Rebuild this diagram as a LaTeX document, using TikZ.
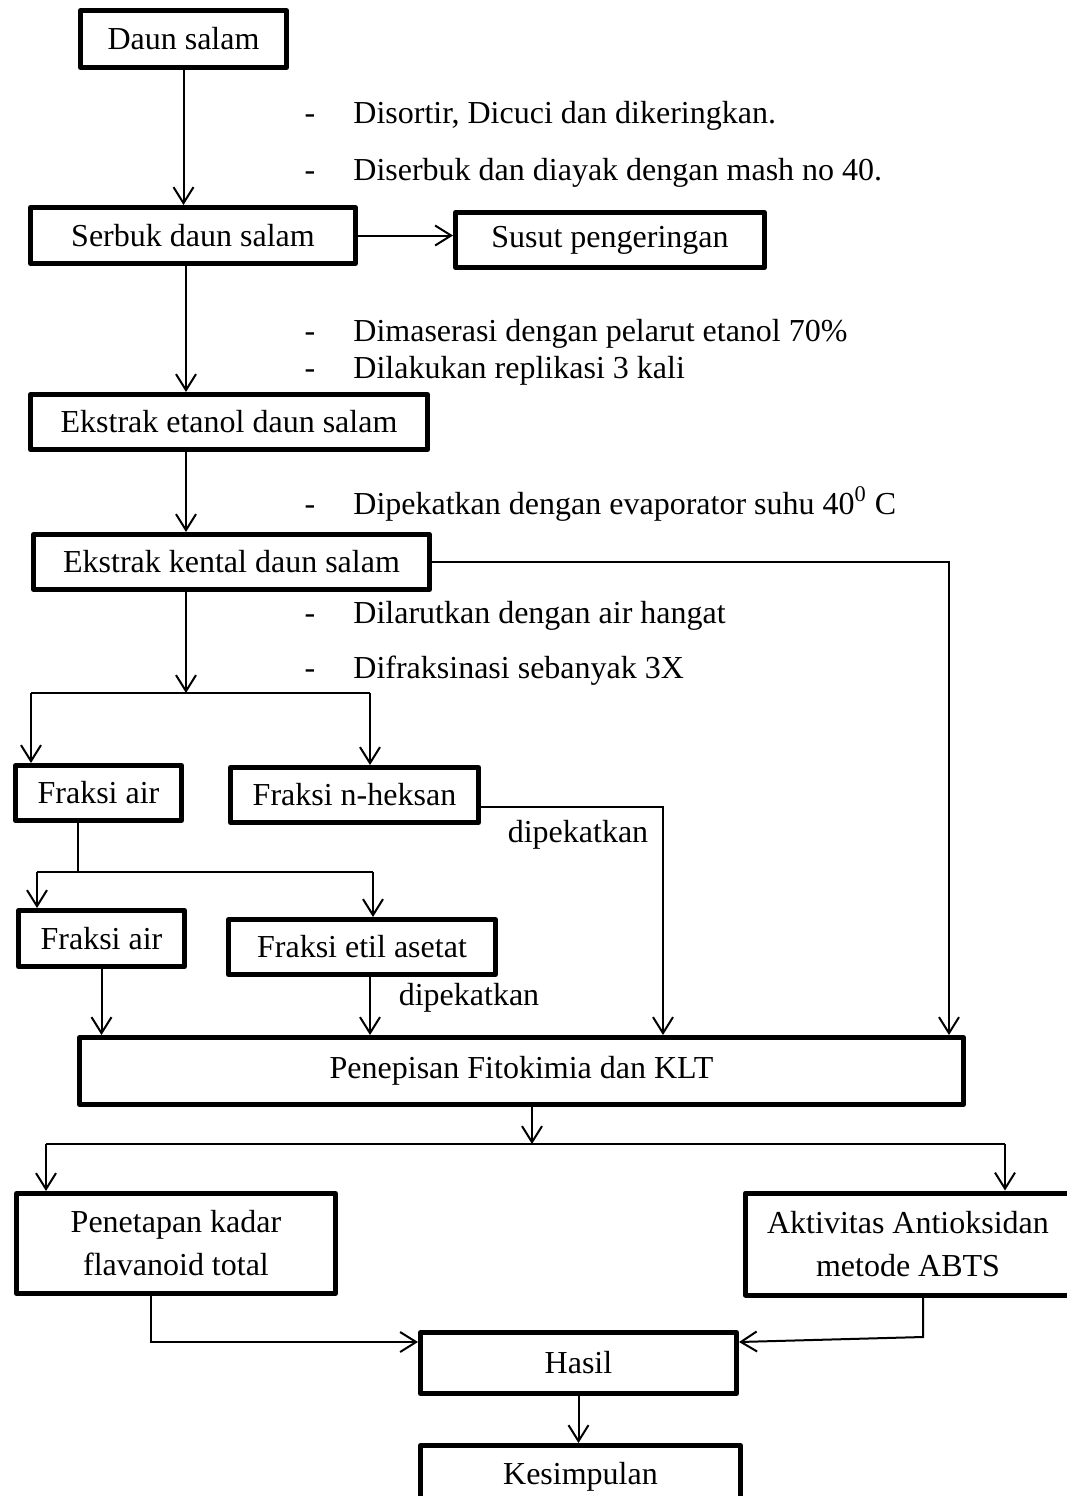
\documentclass[tikz,border=0pt]{standalone}
\usepackage{fontspec}
\setmainfont{Liberation Serif}
\usetikzlibrary{arrows.meta, calc}

\begin{document}
\begin{tikzpicture}[x=0.5pt, y=-0.5pt,
    font=\fontsize{16}{21.5}\selectfont,
    kotak/.style={draw, line width=2.5pt, line join=round, inner sep=0pt, align=center},
    ket/.style={anchor=base west, inner sep=0pt},
    strip/.style={anchor=base, inner sep=0pt},
    panah/.style={line width=1pt, -{Straight Barb[length=8pt, width=10pt, line width=1pt]}},
    garis/.style={line width=1pt}]
    \useasboundingbox (0,0) rectangle (1067,1496);
    \clip (0,0) rectangle (1067,1496);

    % Bahan awal
    \node[kotak, minimum width=103pt, minimum height=28.5pt] (daun) at (183.5,39) {Daun salam};
    \node[kotak, minimum width=162.5pt, minimum height=28pt] (serbuk) at (193,235.5) {Serbuk daun salam};
    \node[kotak, minimum width=154.5pt, minimum height=27.5pt] (susut) at (610,240) {Susut pengeringan};
    \node[kotak, minimum width=198.5pt, minimum height=27.5pt] (etanol) at (229,422) {Ekstrak etanol daun salam};
    \node[kotak, minimum width=198pt, minimum height=27.5pt] (kental) at (231.5,562) {Ekstrak kental daun salam};

    % Fraksinasi
    \node[kotak, minimum width=83pt, minimum height=27.5pt] (air1) at (98.5,793) {Fraksi air};
    \node[kotak, minimum width=124pt, minimum height=27.5pt] (heksan) at (354.5,795) {Fraksi n-heksan};
    \node[kotak, minimum width=83pt, minimum height=28pt] (air2) at (101.5,938.5) {Fraksi air};
    \node[kotak, minimum width=133.5pt, minimum height=27.5pt] (etil) at (362,947) {Fraksi etil asetat};
    \node[kotak, minimum width=442pt, minimum height=33.5pt] (penepisan) at (521.5,1071) {Penepisan Fitokimia dan KLT};

    % Pengujian
    \node[kotak, minimum width=159.5pt, minimum height=50pt] (penetapan) at (176,1243.5) {Penetapan kadar\\flavanoid total};
    \node[kotak, minimum width=162.5pt, minimum height=51pt] (aktivitas) at (908,1244) {Aktivitas Antioksidan\\metode ABTS};
    \node[kotak, minimum width=158pt, minimum height=30.5pt] (hasil) at (578.5,1363) {Hasil};
    \node[kotak, minimum width=160pt, minimum height=31.5pt] (kesimpulan) at (580.5,1477) {Kesimpulan};

    % Keterangan tiap tahap
    \node[strip] (strip1) at (310,123) {-};
    \node[ket] (ket1) at (353,123) {Disortir, Dicuci dan dikeringkan.};
    \node[strip] (strip2) at (310,180) {-};
    \node[ket] (ket2) at (353,180) {Diserbuk dan diayak dengan mash no 40.};
    \node[strip] (strip3) at (310,341) {-};
    \node[ket] (ket3) at (353,341) {Dimaserasi dengan pelarut etanol 70\%};
    \node[strip] (strip4) at (310,378) {-};
    \node[ket] (ket4) at (353,378) {Dilakukan replikasi 3 kali};
    \node[strip] (strip5) at (310,514) {-};
    \node[ket] (ket5) at (353,514) {Dipekatkan dengan evaporator suhu 40\textsuperscript{0} C};
    \node[strip] (strip6) at (310,623) {-};
    \node[ket] (ket6) at (353,623) {Dilarutkan dengan air hangat};
    \node[strip] (strip7) at (310,678) {-};
    \node[ket] (ket7) at (353,678) {Difraksinasi sebanyak 3X};
    \node (pekat1) at (578,835) {dipekatkan};
    \node (pekat2) at (469,998) {dipekatkan};

    % Titik bantu
    \coordinate (jalur) at (186,0);
    \coordinate (s1l) at (31,693);
    \coordinate (s1r) at (370,693);
    \coordinate (s2m) at (78,872);
    \coordinate (s2l) at (37,872);
    \coordinate (s2r) at (373,872);
    \coordinate (kolh) at (663,0);
    \coordinate (kolk) at (949,0);
    \coordinate (s3) at (532,1144);
    \coordinate (s3l) at (46,1144);
    \coordinate (s3r) at (1005,1144);
    \coordinate (jl) at (151,1342);
    \coordinate (jr) at (923,1337);

    % Alur utama
    \draw[panah] (daun) -- (daun |- serbuk.north);
    \draw[panah] (serbuk.east) -- (susut.west |- serbuk.east);
    \draw[panah] (serbuk.south -| jalur) -- (jalur |- etanol.north);
    \draw[panah] (etanol.south -| jalur) -- (jalur |- kental.north);
    \draw[panah] (kental.south -| jalur) -- (jalur |- s1l);
    \draw[panah] (kental.east) -| (kolk |- penepisan.north);

    % Cabang fraksi
    \draw[garis] (s1l) -- (s1r);
    \draw[panah] (s1l) -- (s1l |- air1.north);
    \draw[panah] (s1r) -- (s1r |- heksan.north);
    \draw[panah] ([yshift=-6pt]heksan.east) -| (kolh |- penepisan.north);
    \draw[garis] (s2m |- air1.south) -- (s2m);
    \draw[garis] (s2l) -- (s2r);
    \draw[panah] (s2l) -- (s2l |- air2.north);
    \draw[panah] (s2r) -- (s2r |- etil.north);
    \draw[panah] (air2) -- (air2 |- penepisan.north);
    \draw[panah] (etil.south -| s1r) -- (s1r |- penepisan.north);

    % Pengujian dan hasil
    \draw[panah] (penepisan.south -| s3) -- (s3);
    \draw[garis] (s3l) -- (s3r);
    \draw[panah] (s3l) -- (s3l |- penetapan.north);
    \draw[panah] (s3r) -- (s3r |- aktivitas.north);
    \draw[panah] (jl |- penetapan.south) -- (jl) -- (jl -| hasil.west);
    \draw[panah] (jr |- aktivitas.south) -- (jr) -- (hasil.east |- jl);
    \draw[panah] (hasil) -- (hasil |- kesimpulan.north);
\end{tikzpicture}
\end{document}
